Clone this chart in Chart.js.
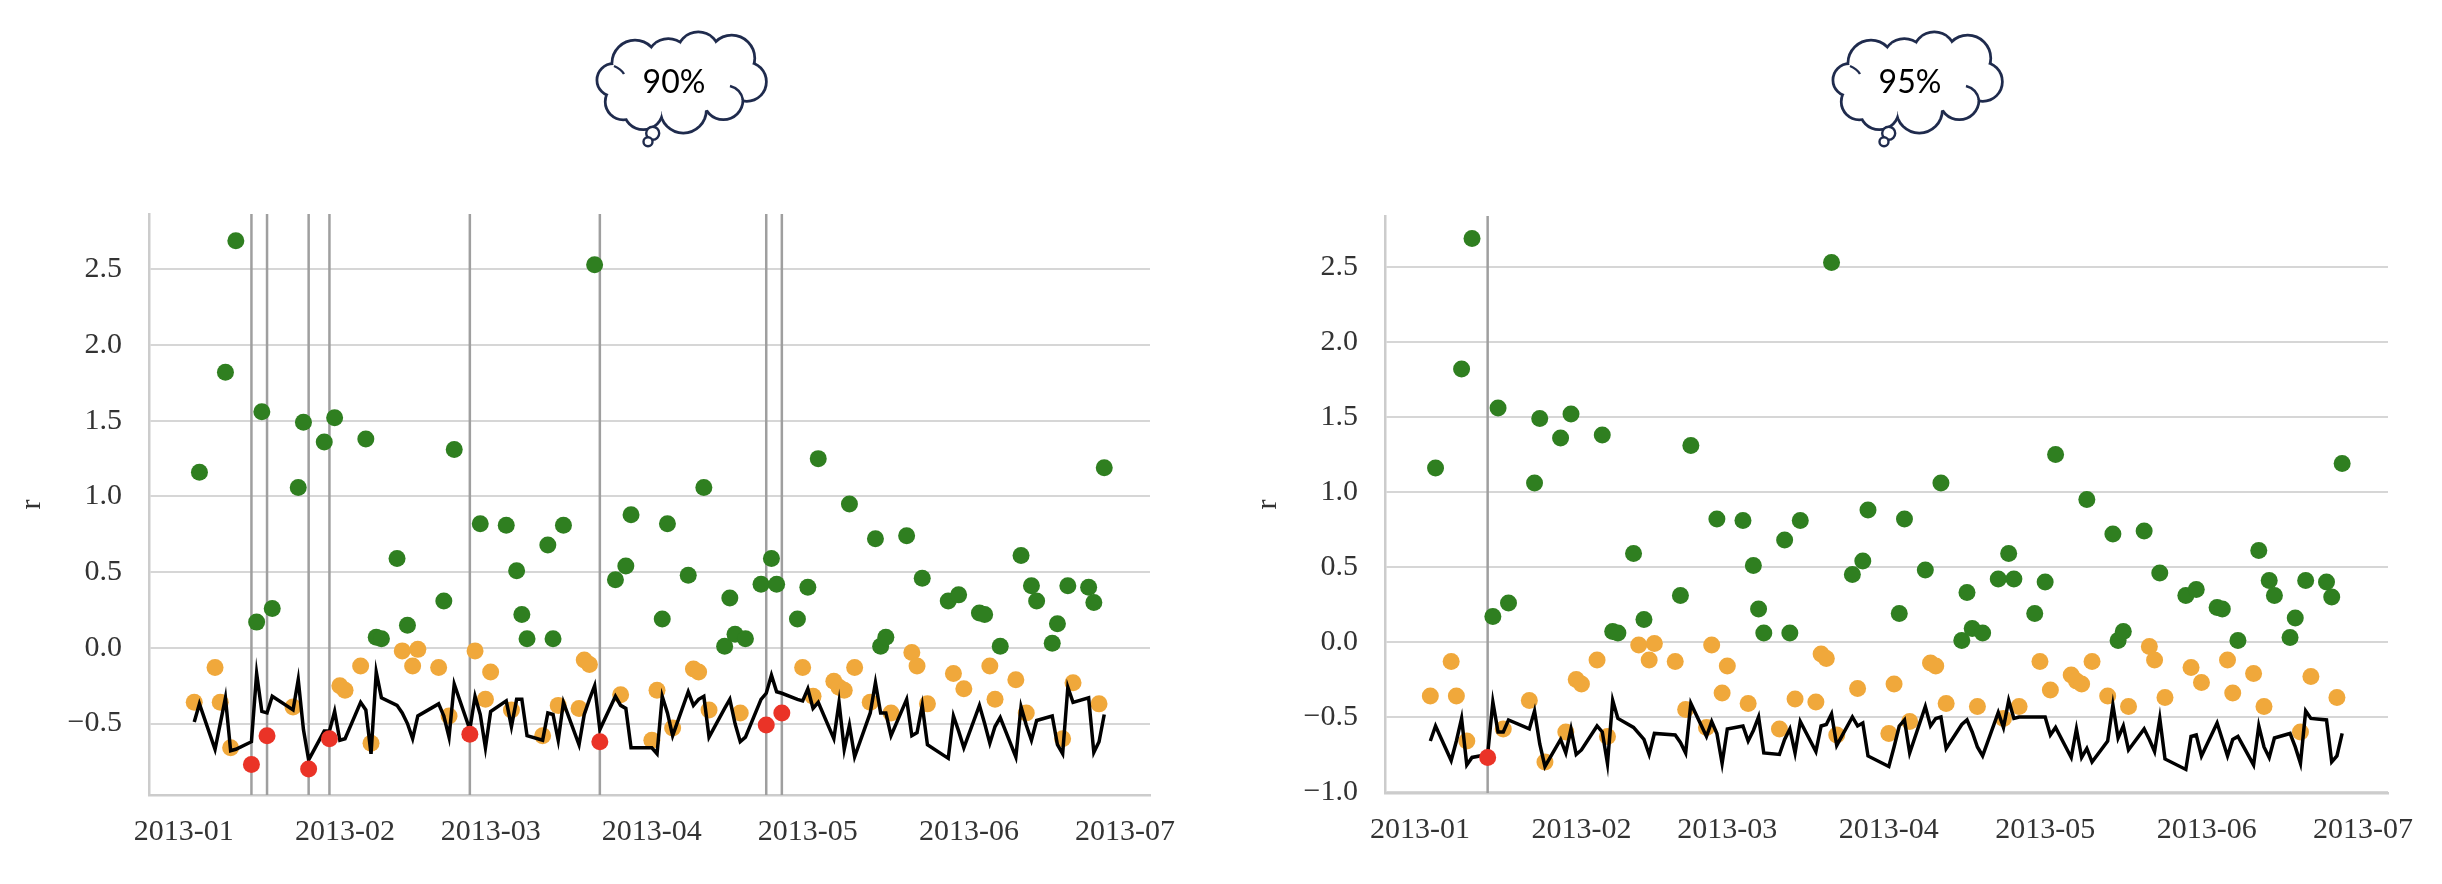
<!DOCTYPE html>
<html>
<head>
<meta charset="utf-8">
<script src="https://cdn.jsdelivr.net/npm/chart.js@4.4.1/dist/chart.umd.min.js"></script>
<style>
  html, body { margin: 0; padding: 0; background: #fff; }
  #page { position: relative; width: 2442px; height: 884px; overflow: hidden; }
  canvas { position: absolute; top: 0; }
  #c90 { left: 0; }
  #c95 { left: 1221px; }
  svg { position: absolute; left: 0; top: 0; }
</style>
</head>
<body>
<div id="page">
  <canvas id="c90" width="1221" height="884"></canvas>
  <canvas id="c95" width="1221" height="884"></canvas>
  <svg width="2442" height="884">
    <defs>
      <g id="cloud">
        <g fill="none" stroke="#1f2b4d" stroke-width="5.5">
          <circle cx="-67.7" cy="-3" r="15"/>
          <circle cx="-57.7" cy="18.7" r="16.7"/>
          <circle cx="-37.7" cy="27" r="18.3"/>
          <circle cx="2.3" cy="27" r="21.7"/>
          <circle cx="42.3" cy="17" r="18.3"/>
          <circle cx="65.7" cy="-1.3" r="18.3"/>
          <circle cx="50.7" cy="-24.7" r="21.7"/>
          <circle cx="17.3" cy="-29.7" r="20"/>
          <circle cx="-12.7" cy="-23" r="20"/>
          <circle cx="-46" cy="-19.7" r="21.7"/>
        </g>
        <g fill="#fff">
          <circle cx="-67.7" cy="-3" r="15"/>
          <circle cx="-57.7" cy="18.7" r="16.7"/>
          <circle cx="-37.7" cy="27" r="18.3"/>
          <circle cx="2.3" cy="27" r="21.7"/>
          <circle cx="42.3" cy="17" r="18.3"/>
          <circle cx="65.7" cy="-1.3" r="18.3"/>
          <circle cx="50.7" cy="-24.7" r="21.7"/>
          <circle cx="17.3" cy="-29.7" r="20"/>
          <circle cx="-12.7" cy="-23" r="20"/>
          <circle cx="-46" cy="-19.7" r="21.7"/>
          <ellipse cx="0" cy="0" rx="60" ry="30"/>
        </g>
        <path d="M 49 3 Q 60 6 62 17" fill="none" stroke="#1f2b4d" stroke-width="2.6"/>
        <path d="M -67 -17 Q -60 -14 -57 -9" fill="none" stroke="#1f2b4d" stroke-width="2.4"/>
        <circle cx="-28.3" cy="50.3" r="6.5" fill="#fff" stroke="#1f2b4d" stroke-width="2.4"/>
        <circle cx="-33" cy="58.7" r="4.5" fill="#fff" stroke="#1f2b4d" stroke-width="2.4"/>
      </g>
    </defs>
    <use href="#cloud" transform="translate(681,83)"/>
    <use href="#cloud" transform="translate(1917,83)"/>
    <text x="674" y="93" font-family="Lato" font-size="32" text-anchor="middle" fill="#000">90%</text>
    <text x="1910" y="93" font-family="Lato" font-size="32" text-anchor="middle" fill="#000">95%</text>
  </svg>
</div>
<script>
const dates = [
  '2013-01-03','2013-01-04','2013-01-07','2013-01-08','2013-01-09','2013-01-10','2013-01-11','2013-01-14','2013-01-15','2013-01-16',
  '2013-01-17','2013-01-18','2013-01-22','2013-01-23','2013-01-24','2013-01-25','2013-01-28','2013-01-29','2013-01-30','2013-01-31',
  '2013-02-01','2013-02-04','2013-02-05','2013-02-06','2013-02-07','2013-02-08','2013-02-11','2013-02-12','2013-02-13','2013-02-14',
  '2013-02-15','2013-02-19','2013-02-20','2013-02-21','2013-02-22','2013-02-25','2013-02-26','2013-02-27','2013-02-28',
  '2013-03-01','2013-03-04','2013-03-05','2013-03-06','2013-03-07','2013-03-08','2013-03-11','2013-03-12','2013-03-13','2013-03-14',
  '2013-03-15','2013-03-18','2013-03-19','2013-03-20','2013-03-21','2013-03-22','2013-03-25','2013-03-26','2013-03-27','2013-03-28',
  '2013-04-01','2013-04-02','2013-04-03','2013-04-04','2013-04-05','2013-04-08','2013-04-09','2013-04-10','2013-04-11','2013-04-12',
  '2013-04-15','2013-04-16','2013-04-17','2013-04-18','2013-04-19','2013-04-22','2013-04-23','2013-04-24','2013-04-25','2013-04-26',
  '2013-04-29','2013-04-30',
  '2013-05-01','2013-05-02','2013-05-03','2013-05-06','2013-05-07','2013-05-08','2013-05-09','2013-05-10','2013-05-13','2013-05-14',
  '2013-05-15','2013-05-16','2013-05-17','2013-05-20','2013-05-21','2013-05-22','2013-05-23','2013-05-24','2013-05-28','2013-05-29',
  '2013-05-30','2013-05-31',
  '2013-06-03','2013-06-04','2013-06-05','2013-06-06','2013-06-07','2013-06-10','2013-06-11','2013-06-12','2013-06-13','2013-06-14',
  '2013-06-17','2013-06-18','2013-06-19','2013-06-20','2013-06-21','2013-06-24','2013-06-25','2013-06-26','2013-06-27'
];

const rValues = [
  -0.36, 1.16, -0.13, -0.36, 1.82, -0.66, 2.69, -0.77, 0.17, 1.56, -0.58, 0.26, -0.39, 1.06, 1.49, -0.80, 1.36, -0.60, 1.52, -0.25,
  -0.28, -0.12, 1.38, -0.63, 0.07, 0.06, 0.59, -0.02, 0.15, -0.12, -0.01, -0.13, 0.31, -0.45, 1.31, -0.57, -0.02, 0.82, -0.34,
  -0.16, 0.81, -0.41, 0.51, 0.22, 0.06, -0.58, 0.68, 0.06, -0.38, 0.81, -0.40, -0.08, -0.11, 2.53, -0.62, 0.45, -0.31, 0.54, 0.88,
  -0.61, -0.28, 0.19, 0.82, -0.53, 0.48, -0.14, -0.16, 1.06, -0.41, 0.01, 0.33, 0.09, -0.43, 0.06, 0.42, -0.51, 0.59, 0.42, -0.43, 0.19, -0.13,
  0.40, -0.32, 1.25, -0.22, -0.26, -0.28, 0.95, -0.13, -0.36, 0.72, 0.01, 0.07, -0.43, 0.74, -0.03, -0.12, 0.46, -0.37, 0.31, -0.17, 0.35, -0.27,
  0.23, 0.22, -0.12, -0.34, 0.01, -0.21, 0.61, -0.43, 0.41, 0.31, 0.03, 0.16, -0.60, 0.41, -0.23, 0.40, 0.30, -0.37, 1.19
];

const var90 = [
  -0.49, -0.37, -0.67, -0.50, -0.33, -0.68, -0.67, -0.62, -0.17, -0.42, -0.43, -0.32, -0.41, -0.21, -0.54, -0.74, -0.55, -0.55, -0.42, -0.61,
  -0.60, -0.36, -0.41, -0.70, -0.16, -0.33, -0.38, -0.43, -0.50, -0.60, -0.45, -0.37, -0.45, -0.59, -0.24, -0.54, -0.32, -0.44, -0.66,
  -0.42, -0.35, -0.52, -0.34, -0.34, -0.58, -0.61, -0.43, -0.44, -0.61, -0.36, -0.64, -0.44, -0.34, -0.25, -0.54, -0.32, -0.38, -0.40, -0.66,
  -0.66, -0.70, -0.32, -0.43, -0.58, -0.29, -0.38, -0.34, -0.32, -0.59, -0.40, -0.34, -0.50, -0.62, -0.59, -0.34, -0.30, -0.18, -0.29, -0.30, -0.34, -0.35,
  -0.27, -0.40, -0.36, -0.60, -0.36, -0.67, -0.51, -0.72, -0.43, -0.23, -0.43, -0.43, -0.58, -0.34, -0.58, -0.56, -0.38, -0.64, -0.73, -0.45, -0.55, -0.66,
  -0.38, -0.50, -0.63, -0.52, -0.46, -0.72, -0.39, -0.51, -0.61, -0.48, -0.45, -0.64, -0.70, -0.26, -0.36, -0.33, -0.69, -0.62, -0.44
];

const var95 = [
  -0.66, -0.56, -0.79, -0.66, -0.51, -0.82, -0.77, -0.75, -0.40, -0.60, -0.60, -0.52, -0.58, -0.46, -0.68, -0.83, -0.65, -0.74, -0.58, -0.75,
  -0.72, -0.56, -0.60, -0.81, -0.39, -0.51, -0.57, -0.61, -0.65, -0.75, -0.61, -0.62, -0.67, -0.74, -0.41, -0.63, -0.53, -0.61, -0.81,
  -0.58, -0.56, -0.66, -0.59, -0.50, -0.74, -0.75, -0.65, -0.58, -0.74, -0.53, -0.73, -0.56, -0.55, -0.48, -0.69, -0.50, -0.56, -0.54, -0.76,
  -0.83, -0.70, -0.56, -0.52, -0.74, -0.43, -0.56, -0.51, -0.50, -0.71, -0.55, -0.52, -0.60, -0.70, -0.76, -0.47, -0.57, -0.39, -0.51, -0.50, -0.50, -0.50,
  -0.50, -0.62, -0.57, -0.77, -0.58, -0.77, -0.71, -0.80, -0.66, -0.42, -0.64, -0.56, -0.72, -0.58, -0.65, -0.73, -0.51, -0.78, -0.85, -0.63, -0.62, -0.76,
  -0.54, -0.65, -0.76, -0.65, -0.63, -0.82, -0.56, -0.70, -0.77, -0.64, -0.61, -0.70, -0.81, -0.46, -0.51, -0.52, -0.80, -0.76, -0.61
];

const monthTicks = ['2013-01-01', '2013-02-01', '2013-03-01', '2013-04-01', '2013-05-01', '2013-06-01', '2013-07-01'];
const monthLabels = ['2013-01', '2013-02', '2013-03', '2013-04', '2013-05', '2013-06', '2013-07'];
const yTicks90 = [-0.5, 0, 0.5, 1, 1.5, 2, 2.5];
const yTicks95 = [-1, -0.5, 0, 0.5, 1, 1.5, 2, 2.5];

const GREEN = '#2f7f20';
const ORANGE = '#f0a83b';
const RED = '#ea3327';
const FONT = { family: 'Liberation Serif', size: 30 };

// days since 2013-01-01, used as a linear x value
function dayOf(s) {
  const p = s.split('-').map(Number);
  return (Date.UTC(p[0], p[1] - 1, p[2]) - Date.UTC(2013, 0, 1)) / 86400000;
}
const xDays = dates.map(dayOf);
const tickDays = monthTicks.map(dayOf);

function fmt(v) {
  return (v < 0 ? '\u2212' : '') + Math.abs(v).toFixed(1);
}

function build(id, limit, yTicks, box) {
  const normal = [], normalColors = [], breach = [], line = [];
  xDays.forEach((x, i) => {
    line.push({ x: x, y: limit[i] });
    if (rValues[i] < limit[i]) {
      breach.push({ x: x, y: rValues[i] });
    } else {
      normal.push({ x: x, y: rValues[i] });
      normalColors.push(rValues[i] >= 0 ? GREEN : ORANGE);
    }
  });

  // grey vertical line at every date where r falls below the limit
  const markers = {
    id: 'markers',
    beforeDatasetsDraw(chart) {
      const ctx = chart.ctx, a = chart.chartArea, xs = chart.scales.x;
      ctx.save();
      ctx.strokeStyle = '#9f9f9f';
      ctx.lineWidth = 2.5;
      breach.forEach(p => {
        const px = xs.getPixelForValue(p.x);
        ctx.beginPath();
        ctx.moveTo(px, a.top);
        ctx.lineTo(px, a.bottom);
        ctx.stroke();
      });
      ctx.restore();
    }
  };

  return new Chart(document.getElementById(id), {
    type: 'scatter',
    data: {
      datasets: [
        { data: breach, backgroundColor: RED, borderColor: RED, borderWidth: 0, pointRadius: 8.5 },
        { type: 'line', data: line, borderColor: '#000', borderWidth: 3.5, pointRadius: 0, showLine: true, fill: false, tension: 0 },
        { data: normal, backgroundColor: normalColors, borderWidth: 0, pointRadius: 8.5 }
      ]
    },
    options: {
      responsive: false,
      animation: false,
      devicePixelRatio: 1,
      layout: { padding: { left: 0, top: box.top, right: box.right, bottom: 0 } },
      plugins: { legend: { display: false }, tooltip: { enabled: false } },
      scales: {
        x: {
          type: 'linear',
          min: -6.7,
          max: 185.8,
          grid: { display: false, drawTicks: false },
          border: { color: '#cccccc', width: 2.5 },
          afterFit(s) { s.height = 884 - box.bottom; },
          afterBuildTicks(s) { s.ticks = tickDays.map(v => ({ value: v })); },
          ticks: {
            padding: 19, maxRotation: 0, autoSkip: false, color: '#333', font: FONT,
            callback: (v, i) => monthLabels[i]
          }
        },
        y: {
          min: box.min,
          max: box.max,
          afterFit(s) { s.width = box.left; },
          afterBuildTicks(s) { s.ticks = yTicks.map(v => ({ value: v })); },
          grid: { color: '#d6d6d6', lineWidth: 2, drawTicks: false },
          border: { color: '#cccccc', width: 2.5 },
          ticks: { padding: 27, color: '#333', font: FONT, callback: v => fmt(v) },
          title: { display: true, text: 'r', color: '#333', font: FONT, padding: { top: box.titlePad, bottom: 0 } }
        }
      }
    },
    plugins: [markers]
  });
}

build('c90', var90, yTicks90, { left: 149, right: 71, top: 214, bottom: 795, min: -0.972, max: 2.866, titlePad: 14 });
build('c95', var95, yTicks95, { left: 164, right: 54, top: 216, bottom: 793, min: -1.007, max: 2.84, titlePad: 29 });
</script>
</body>
</html>
